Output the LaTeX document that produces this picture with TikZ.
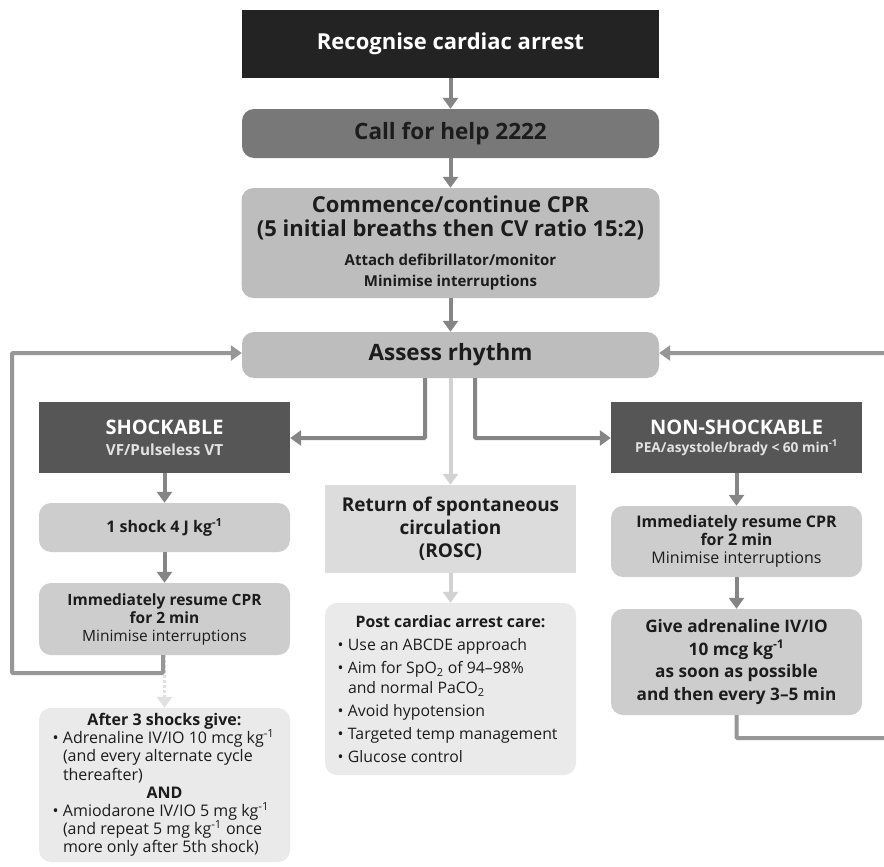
\documentclass[tikz,border=0pt]{standalone}
\usepackage{fontspec}
\setmainfont{Open Sans}
\usetikzlibrary{arrows.meta}
\definecolor{txt}{HTML}{1C1C1C}
\definecolor{topc}{HTML}{232323}
\definecolor{callc}{HTML}{787878}
\definecolor{midc}{HTML}{BDBDBD}
\definecolor{darkc}{HTML}{565656}
\definecolor{stepc}{HTML}{CDCDCD}
\definecolor{roscc}{HTML}{DCDCDC}
\definecolor{palec}{HTML}{EAEAEA}
\definecolor{arrc}{HTML}{858585}
\definecolor{lightarr}{HTML}{D2D2D2}
\definecolor{dotc}{HTML}{E0E0E0}
\definecolor{subw}{HTML}{E2E2E2}
\newcommand{\fs}[2]{\fontsize{#1}{#2}\selectfont}
\newcommand{\bul}{\makebox[10.5pt][l]{•}}
\newcommand{\inv}{\textsuperscript{-1}}
\begin{document}
\begin{tikzpicture}[x=1pt,y=-1pt,
  box/.style={inner sep=2pt, align=center, text=txt, anchor=center},
  rbox/.style={box, rounded corners=12pt},
  arr/.style={line width=4pt, draw=arrc, -{Triangle[width=15pt,length=11pt]}},
  larr/.style={line width=4pt, draw=lightarr, -{Triangle[width=15pt,length=11pt]}},
  loopline/.style={line width=4pt, draw=arrc!85, rounded corners=1pt},
]
\useasboundingbox (0,0) rectangle (884,867);
\fill[white] (0,0) rectangle (884,867);

% main column
\node[box, fill=topc, text=white, minimum width=417pt, minimum height=68pt,
      font=\bfseries\fs{22}{25}] (top) at (450.5,44) {Recognise cardiac arrest};
\node[rbox, fill=callc, minimum width=417pt, minimum height=49pt,
      font=\bfseries\fs{22.5}{26}] (call) at (450.5,133.5) {Call for help 2222};
\node[rbox, fill=midc, minimum width=417pt, minimum height=110pt] (cpr) at (450.5,243)
  {\begin{minipage}{414pt}\centering\bfseries\fs{22}{24.5}Commence/continue CPR\\(5 initial breaths then CV ratio 15:2)\par
   \vspace{8pt}\fs{15}{21}Attach defibrillator/monitor\\Minimise interruptions\par\end{minipage}};
\node[rbox, fill=midc, minimum width=417pt, minimum height=46pt,
      font=\bfseries\fs{22.5}{25}] (assess) at (450.5,355) {Assess rhythm};

% shockable column
\node[box, fill=darkc, minimum width=251pt, minimum height=71pt] (shock) at (164.5,437.5)
  {\begin{minipage}{245pt}\color{white}\centering\bfseries\fs{20}{25}SHOCKABLE\par
   \vspace{3pt}\color{subw}\fs{15.3}{18}VF/Pulseless VT\par\end{minipage}};
\node[rbox, fill=stepc, minimum width=251pt, minimum height=49pt,
      font=\bfseries\fs{16}{18}] (oneshock) at (164.5,527.5) {1 shock 4 J kg\inv};
\node[rbox, fill=stepc, minimum width=251pt, minimum height=72pt] (resL) at (164.5,619)
  {\begin{minipage}{245pt}\centering\bfseries\fs{15.5}{18}Immediately resume CPR\\for 2 min\par
   \mdseries Minimise interruptions\par\end{minipage}};
\node[rbox, fill=palec, minimum width=251pt, minimum height=154pt] (after) at (164.5,785)
  {\begin{minipage}{224pt}\fs{16}{18.2}\centering\bfseries After 3 shocks give:\par
   \raggedright\mdseries
   \hangindent=10.5pt\hangafter=1 \bul Adrenaline IV/IO 10 mcg kg\inv\newline (and every alternate cycle\newline thereafter)\par
   {\centering\bfseries AND\par}
   \hangindent=10.5pt\hangafter=1 \bul Amiodarone IV/IO 5 mg kg\inv\newline (and repeat 5 mg kg\inv{} once\newline more only after 5th shock)\par
   \end{minipage}};

% ROSC column
\node[box, fill=roscc, minimum width=251pt, minimum height=88pt,
      font=\bfseries\fs{19}{23}] (rosc) at (450.5,529) {Return of spontaneous\\circulation\\(ROSC)};
\node[rbox, fill=palec, minimum width=251pt, minimum height=172pt] (post) at (450.5,689)
  {\begin{minipage}{226pt}\fs{15.8}{20.5}\centering\bfseries Post cardiac arrest care:\par
   \raggedright\mdseries\parskip=2.5pt
   \hangindent=10.5pt\hangafter=1 \bul Use an ABCDE approach\par
   \hangindent=10.5pt\hangafter=1 \bul Aim for SpO\textsubscript{2} of 94–98\%\newline and normal PaCO\textsubscript{2}\par
   \hangindent=10.5pt\hangafter=1 \bul Avoid hypotension\par
   \hangindent=10.5pt\hangafter=1 \bul Targeted temp management\par
   \hangindent=10.5pt\hangafter=1 \bul Glucose control\par
   \end{minipage}};

% non-shockable column
\node[box, fill=darkc, minimum width=251pt, minimum height=71pt] (nonshock) at (736.5,437.5)
  {\begin{minipage}{245pt}\color{white}\centering\bfseries\fs{20}{25}NON-SHOCKABLE\par
   \color{subw}\fs{13.7}{18}PEA/asystole/brady < 60 min\inv\par\end{minipage}};
\node[rbox, fill=stepc, minimum width=251pt, minimum height=71pt] (resR) at (736.5,541.5)
  {\begin{minipage}{245pt}\centering\bfseries\fs{16}{18}Immediately resume CPR\\for 2 min\par
   \mdseries Minimise interruptions\par\end{minipage}};
\node[rbox, fill=stepc, minimum width=251pt, minimum height=106pt,
      font=\bfseries\fs{17.2}{22.7}] (adr) at (736.5,662)
  {Give adrenaline IV/IO\\10 mcg kg\inv\\as soon as possible\\and then every 3–5 min};

% connectors main column
\draw[arr] (top) -- (call);
\draw[arr] (call) -- (cpr);
\draw[arr] (cpr) -- (assess);

% branches from assess
\coordinate (aL) at (425,378);
\coordinate (aR) at (475,378);
\draw[arr, rounded corners=1pt] (aL) |- (shock.east |- 0,438);
\draw[arr, rounded corners=1pt] (aR) |- (nonshock.west |- 0,438);
\draw[larr] (assess) -- (rosc);
\draw[larr] (rosc) -- (post);

% shockable column
\draw[arr] (shock) -- (oneshock);
\draw[arr] (oneshock) -- (resL);
\draw[line width=3pt, draw=dotc, dotted, -{Triangle[width=15pt,length=11pt]}] (resL) -- (after);

% left loop
\coordinate (lA) at (163,673);
\coordinate (lB) at (12,673);
\coordinate (lC) at (12,353);
\draw[loopline, -{Triangle[width=15pt,length=11pt]}] (resL.south -| lA) -- (lA) -- (lB) -- (lC) -- (assess.west |- lC);

% non-shockable column
\draw[arr] (nonshock) -- (resR);
\draw[arr] (resR) -- (adr);

% right loop
\coordinate (rA) at (736.5,738);
\coordinate (rB) at (896,738);
\coordinate (rC) at (896,353);
\draw[loopline, -{Triangle[width=15pt,length=11pt]}] (adr) -- (rA) -- (rB) -- (rC) -- (assess.east |- rC);
\end{tikzpicture}
\end{document}
